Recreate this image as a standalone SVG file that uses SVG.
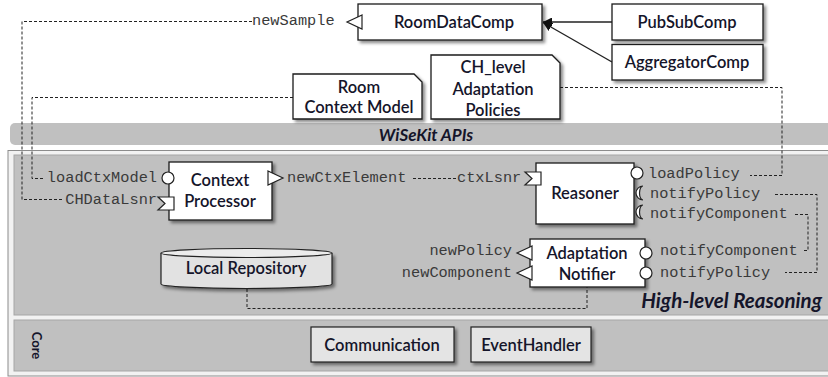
<svg xmlns="http://www.w3.org/2000/svg" width="828" height="377" viewBox="0 0 828 377">
<defs>
<style>
.box{fill:#fff;stroke:#1a1a1a;stroke-width:1.3}
.lbl{font-family:Lato,"Liberation Sans",sans-serif;font-size:16.5px;font-weight:600;fill:#15152a;text-anchor:middle}
.mono{font-family:"Liberation Mono","Courier New",monospace;font-size:15.3px;fill:#3a3a3a}
.end{text-anchor:end}
.dash{fill:none;stroke:#222;stroke-width:1;stroke-dasharray:3 2}
.solid{fill:none;stroke:#222;stroke-width:1.4}
.port{fill:#fff;stroke:#222;stroke-width:1.2}
.panel{fill:#c0c0c0;stroke:#a6a6a6;stroke-width:1}
.title{font-family:Lato,"Liberation Sans",sans-serif;font-weight:bold;font-style:italic;fill:#15152a}
.corelbl{font-family:Lato,"Liberation Sans",sans-serif;font-weight:bold;font-size:13px;fill:#15152a;text-anchor:middle}
.core{fill:#e4e4e4;stroke:#222;stroke-width:1.2}
</style>
<filter id="sh" x="-20%" y="-20%" width="140%" height="150%">
<feDropShadow dx="2.5" dy="2.5" stdDeviation="1.6" flood-color="#000" flood-opacity="0.45"/>
</filter>
<marker id="arr" viewBox="0 0 10 10" refX="10" refY="5" markerWidth="9" markerHeight="9" markerUnits="userSpaceOnUse" orient="auto">
<path d="M0,0 L10,5 L0,10 Z" fill="#111"/>
</marker>
</defs>
<rect width="828" height="377" fill="#fff"/>

<g id="panels">
<rect x="10" y="123" width="830" height="22" rx="5" fill="#c0c0c0"/>
<text class="title" x="426" y="140.5" font-size="17" text-anchor="middle">WiSeKit APIs</text>
<rect x="8" y="150.5" width="830" height="225.5" fill="#f2f2f2" stroke="#8c8c8c" stroke-width="1"/>
<rect class="panel" x="14" y="155" width="820" height="160"/>
<text class="title" x="822" y="308" font-size="20.5" text-anchor="end">High-level Reasoning</text>
<rect class="panel" x="14" y="320" width="820" height="51"/>
<text class="corelbl" transform="translate(32,345.5) rotate(90)">Core</text>
</g>

<g id="connectors">
<path class="dash" d="M252,21.5 H22 V199.5 H62"/>
<path class="dash" d="M293,97.5 H32 V178.5 H45"/>
<path class="dash" d="M560,87.5 H782 V175.5 H750"/>
<path class="dash" d="M413,178.5 H457"/>
<path class="dash" d="M775,194.5 H817 V272.5 H785"/>
<path class="dash" d="M795,214.5 H808 V250.5 H803"/>
<path class="dash" d="M247,289 V308.5 H587 V287"/>
<path class="solid" d="M612,22 H543" marker-end="url(#arr)"/>
<path class="solid" d="M612,62 L543,22.5" marker-end="url(#arr)"/>
</g>

<g id="RoomDataComp">
<rect class="box" x="358" y="4" width="184" height="36" filter="url(#sh)"/>
<text class="lbl" x="454" y="27.5">RoomDataComp</text>
<polygon class="port" points="362,15 347,22 362,29"/>
<text class="mono" x="252" y="25">newSample</text>
</g>

<g id="PubSubComp">
<rect class="box" x="612" y="4" width="151" height="36" filter="url(#sh)"/>
<text class="lbl" x="687" y="27.5">PubSubComp</text>
</g>

<g id="AggregatorComp">
<rect class="box" x="612" y="44.5" width="151" height="35.5" filter="url(#sh)"/>
<text class="lbl" x="687" y="67.5">AggregatorComp</text>
</g>

<g id="RoomContextModel">
<path class="box" d="M293,74 H414 L422,82 V119 H293 Z" filter="url(#sh)"/>
<text class="lbl" x="359" y="93">Room</text>
<text class="lbl" x="359" y="113">Context Model</text>
</g>

<g id="CHlevelPolicies">
<path class="box" d="M431,55 H552 L560,63 V119 H431 Z" filter="url(#sh)"/>
<text class="lbl" x="493" y="73">CH_level</text>
<text class="lbl" x="493" y="94.5">Adaptation</text>
<text class="lbl" x="493" y="116">Policies</text>
</g>

<g id="ContextProcessor">
<rect class="box" x="169" y="162" width="103" height="58" filter="url(#sh)"/>
<text class="lbl" x="220" y="185.5">Context</text>
<text class="lbl" x="220" y="206.5">Processor</text>
<circle class="port" cx="168" cy="178" r="6"/>
<polygon class="port" points="158,197 174,197 174,210 158,210 165,203.5"/>
<polygon class="port" points="268,171 283,178 268,185"/>
<text class="mono end" x="157" y="182">loadCtxModel</text>
<text class="mono end" x="157" y="204">CHDataLsnr</text>
<text class="mono" x="287" y="182">newCtxElement</text>
</g>

<g id="Reasoner">
<rect class="box" x="536" y="163" width="98" height="61" filter="url(#sh)"/>
<text class="lbl" x="585" y="198.5">Reasoner</text>
<polygon class="port" points="525,172 541,172 541,185 525,185 532,178.5"/>
<circle class="port" cx="637" cy="173" r="6"/>
<path class="port" d="M643,186 A7,7 0 0 0 643,200 A3.5,7 0 0 1 643,186 Z"/>
<path class="port" d="M643,205 A7,7 0 0 0 643,219 A3.5,7 0 0 1 643,205 Z"/>
<text class="mono" x="457" y="182">ctxLsnr</text>
<text class="mono" x="648" y="178">loadPolicy</text>
<text class="mono" x="650" y="198">notifyPolicy</text>
<text class="mono" x="650" y="218">notifyComponent</text>
</g>

<g id="AdaptationNotifier">
<rect class="box" x="530" y="239" width="115" height="48" filter="url(#sh)"/>
<text class="lbl" x="587" y="258.5">Adaptation</text>
<text class="lbl" x="587" y="279.5">Notifier</text>
<polygon class="port" points="532,246 517,253 532,260"/>
<polygon class="port" points="532,266 517,273 532,280"/>
<circle class="port" cx="646" cy="253" r="6"/>
<circle class="port" cx="646" cy="273" r="6"/>
<text class="mono end" x="512" y="255">newPolicy</text>
<text class="mono end" x="512" y="277">newComponent</text>
<text class="mono" x="660" y="255">notifyComponent</text>
<text class="mono" x="660" y="277">notifyPolicy</text>
</g>

<g id="LocalRepository">
<path d="M161,253 V284 A85.5,4.5 0 0 0 332,284 V253" fill="#e2e2e2" stroke="#222" stroke-width="1.2" filter="url(#sh)"/>
<ellipse cx="246.5" cy="253" rx="85.5" ry="4.5" fill="#ececec" stroke="#222" stroke-width="1.2"/>
<text class="lbl" x="246" y="273.5">Local Repository</text>
</g>

<g id="Communication">
<rect class="core" x="311" y="327" width="143" height="35" filter="url(#sh)"/>
<text class="lbl" x="382" y="350.5">Communication</text>
</g>

<g id="EventHandler">
<rect class="core" x="471" y="327" width="120" height="35" filter="url(#sh)"/>
<text class="lbl" x="531" y="350.5">EventHandler</text>
</g>
</svg>
